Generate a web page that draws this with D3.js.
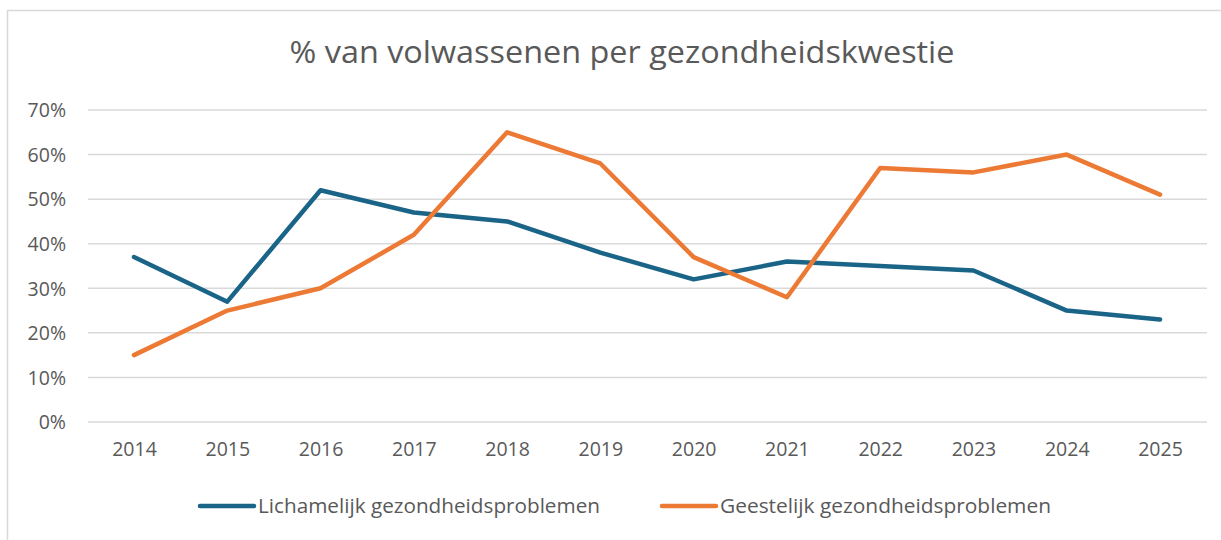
<!DOCTYPE html>
<html>
<head>
<meta charset="utf-8">
<script src="https://cdn.jsdelivr.net/npm/d3@7"></script>
<style>
  body { margin: 0; background: #fff; }
  text { font-family: "Open Sans", "Liberation Sans", sans-serif; fill: #595959; }
</style>
</head>
<body>
<script>
var width = 1221,
    height = 540;

var years = ["2014", "2015", "2016", "2017", "2018", "2019", "2020", "2021", "2022", "2023", "2024", "2025"];
var lichamelijk = [37, 27, 52, 47, 45, 38, 32, 36, 35, 34, 25, 23];
var geestelijk = [15, 25, 30, 42, 65, 58, 37, 28, 57, 56, 60, 51];
var yTicks = [0, 10, 20, 30, 40, 50, 60, 70];

var series = [
  { name: "Lichamelijk gezondheidsproblemen", values: lichamelijk, color: "#1a6488" },
  { name: "Geestelijk gezondheidsproblemen", values: geestelijk, color: "#ec7a35" }
];

var svg = d3.select("body").append("svg")
    .attr("width", width)
    .attr("height", height);

// chart border
svg.append("rect")
    .attr("x", 7.5).attr("y", 10.5)
    .attr("width", 1240).attr("height", 560)
    .attr("fill", "none")
    .attr("stroke", "#d9d9d9")
    .attr("stroke-width", 1.5);

svg.append("text")
    .attr("x", 622).attr("y", 63)
    .attr("text-anchor", "middle")
    .style("font-size", "31px")
    .attr("textLength", 665)
    .attr("lengthAdjust", "spacingAndGlyphs")
    .text("% van volwassenen per gezondheidskwestie");

var x = d3.scalePoint().domain(years).range([134, 1160]);
var y = d3.scaleLinear().domain([0, 70]).range([422, 110]);

// gridlines
svg.append("g")
    .selectAll("line").data(yTicks)
  .enter().append("line")
    .attr("x1", 88).attr("x2", 1207)
    .attr("y1", d => y(d)).attr("y2", d => y(d))
    .attr("stroke", "#d9d9d9")
    .attr("stroke-width", 1.5);

var yAxis = svg.append("g")
    .attr("transform", "translate(66,0)")
    .call(d3.axisLeft(y).tickValues(yTicks).tickSize(0).tickFormat(d => d + "%"));
yAxis.select(".domain").remove();
yAxis.selectAll("text").attr("fill", "#595959").style("font-size", "19.5px")
    .attr("dy", "0.35em").attr("x", 0);

var xAxis = svg.append("g")
    .attr("transform", "translate(0,439)")
    .call(d3.axisBottom(x).tickSize(0));
xAxis.select(".domain").remove();
xAxis.selectAll("text").attr("fill", "#595959").style("font-size", "19.5px").attr("dy", "0.71em");

var line = d3.line()
    .x((d, i) => x(years[i]))
    .y(d => y(d));

svg.append("g")
    .selectAll("path").data(series)
  .enter().append("path")
    .attr("d", d => line(d.values))
    .attr("fill", "none")
    .attr("stroke", d => d.color)
    .attr("stroke-width", 4.5)
    .attr("stroke-linejoin", "round")
    .attr("stroke-linecap", "round");

// legend
var legendX = [200, 662];
var legend = svg.append("g")
    .selectAll("g").data(series)
  .enter().append("g")
    .attr("transform", (d, i) => "translate(" + legendX[i] + ",506)");

legend.append("line")
    .attr("x1", 0).attr("x2", 54)
    .attr("stroke", d => d.color)
    .attr("stroke-width", 4.5)
    .attr("stroke-linecap", "round");

legend.append("text")
    .attr("x", 58).attr("dy", "0.35em")
    .style("font-size", "19.5px")
    .attr("textLength", (d, i) => [342, 331][i])
    .attr("lengthAdjust", "spacingAndGlyphs")
    .text(d => d.name);
</script>
</body>
</html>
